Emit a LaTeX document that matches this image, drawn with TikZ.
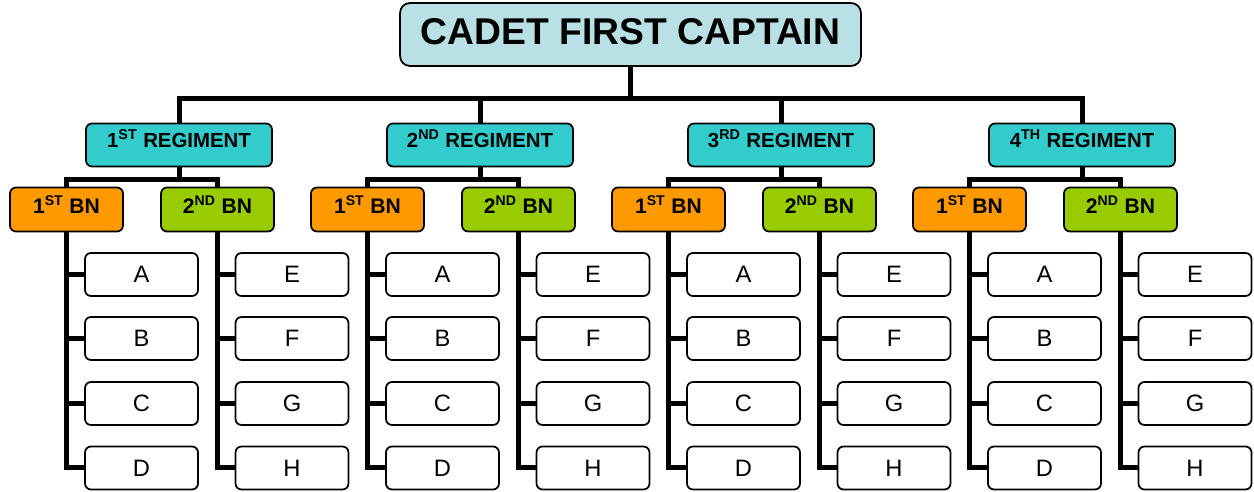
\documentclass[tikz,border=0pt]{standalone}
\usepackage{fontspec}
\setmainfont{Liberation Sans}
\usetikzlibrary{calc,positioning}
\definecolor{capblue}{RGB}{185,224,228}
\definecolor{regteal}{RGB}{51,204,204}
\definecolor{bnorange}{RGB}{255,153,0}
\definecolor{bngreen}{RGB}{153,204,0}
\begin{document}
\begin{tikzpicture}[x=0.02cm, y=-0.02cm,
  box/.style={draw, line width=1pt, rounded corners=0.12cm, inner sep=0pt},
  capbox/.style={box, fill=capblue, minimum width=9.22cm, minimum height=1.26cm, rounded corners=0.2cm,
    text height=0.54cm, text depth=0.12cm, font=\fontsize{21.2}{24}\selectfont\bfseries},
  regbox/.style={box, fill=regteal, minimum width=3.72cm, minimum height=0.86cm,
    text height=0.29cm, text depth=0.19cm, font=\fontsize{11.6}{13}\selectfont\bfseries},
  bnbox/.style={box, minimum width=2.26cm, minimum height=0.88cm,
    text height=0.3cm, text depth=0.14cm, font=\fontsize{12}{14}\selectfont\bfseries},
  coybox/.style={box, fill=white, minimum width=2.26cm, minimum height=0.86cm, font=\fontsize{13.5}{16}\selectfont},
  link/.style={line width=0.1cm}]
\useasboundingbox (0,0) rectangle (1254,492);
\node[capbox] (top) at (630.5,34.5) {CADET FIRST CAPTAIN};
\foreach \r/\sfx [count=\i] in {179/ST, 480/ND, 781/RD, 1082/TH}{
  \node[regbox] (reg\i) at (\r,145) {\i\textsuperscript{\sfx} REGIMENT};
  \draw[link] (top.south) -- ++(0,32) -| (reg\i.north);
  \node[bnbox, fill=bnorange] (bn\i a) at (\r-112.5,209.5) {1\textsuperscript{ST} BN};
  \node[bnbox, fill=bngreen] (bn\i b) at (\r+38.5,209.5) {2\textsuperscript{ND} BN};
  \draw[link] (reg\i.south) -- ++(0,12) -| (bn\i a.north);
  \draw[link] (reg\i.south) -- ++(0,12) -| (bn\i b.north);
  % companies
  \foreach \ca/\cb/\y in {A/E/274.5, B/F/338.5, C/G/403.5, D/H/468}{
    \node[coybox] (coy\i\ca) at (\r-37.5,\y) {\ca};
    \node[coybox] (coy\i\cb) at (\r+113,\y) {\cb};
    \draw[link] (bn\i a.south) |- (coy\i\ca.west);
    \draw[link] (bn\i b.south) |- (coy\i\cb.west);
  }
}
\end{tikzpicture}
\end{document}
